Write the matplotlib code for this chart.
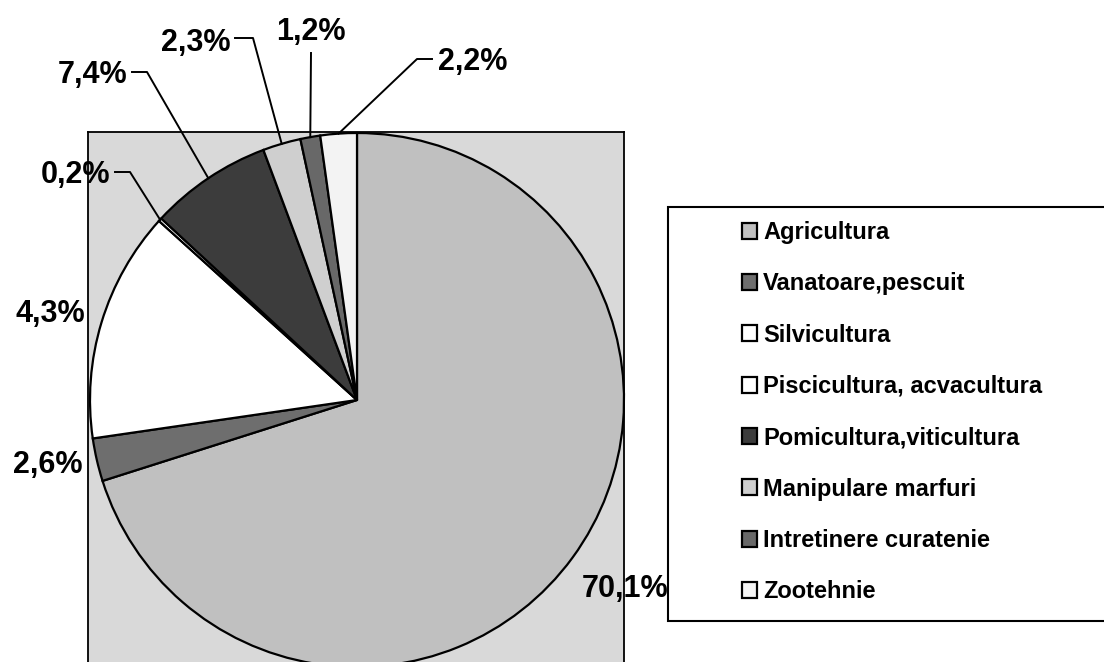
import matplotlib
matplotlib.use("Agg")
import matplotlib.pyplot as plt
from matplotlib.patches import Rectangle
import numpy as np

categories = ["Agricultura", "Vanatoare,pescuit", "Silvicultura",
              "Piscicultura, acvacultura", "Pomicultura,viticultura",
              "Manipulare marfuri", "Intretinere curatenie", "Zootehnie"]
# percentages printed next to the slices
label_values = [70.1, 2.6, 4.3, 0.2, 7.4, 2.3, 1.2, 2.2]
# slice sizes as drawn (the Silvicultura slice is drawn at ~14%, not 4.3%)
slice_sizes = [70.1, 2.6, 14.0, 0.2, 7.4, 2.3, 1.2, 2.2]
slice_colors = ["#c0c0c0", "#6e6e6e", "#ffffff", "#ffffff",
                "#3c3c3c", "#cfcfcf", "#686868", "#f3f3f3"]

plt.rcParams['font.family'] = ['Liberation Sans', 'DejaVu Sans']
plt.rcParams['font.weight'] = 'bold'

W, H = 1104, 662
fig = plt.figure(figsize=(W / 100, H / 100), dpi=100)

# pie centre / radius and plot area, in pixels
cx, cy, R = 357, 400, 267
left, right, top, bottom = 88, 624, 132, 670
ax = fig.add_axes([left / W, 1 - bottom / H, (right - left) / W, (bottom - top) / H])

wedges, _ = ax.pie(slice_sizes, colors=slice_colors, startangle=90, counterclock=False,
                   wedgeprops=dict(edgecolor='black', linewidth=1.6))

ax.set_xlim((left - cx) / R, (right - cx) / R)
ax.set_ylim((cy - bottom) / R, (cy - top) / R)
ax.set_aspect('auto')
ax.set_frame_on(True)
ax.set_facecolor('#d9d9d9')
for s in ax.spines.values():
    s.set_linewidth(1.3)
    s.set_color('black')
ax.set_xticks([])
ax.set_yticks([])


def to_data(px, py):
    return (px - cx) / R, (cy - py) / R


# text anchor (x, baseline y, ha) and leader line start/elbow in pixels
label_layout = [
    (582, 597, 'left', None),
    (82, 473, 'right', None),
    (85, 322, 'right', None),
    (110, 183, 'right', [(115, 172), (130, 172)]),
    (127, 83, 'right', [(132, 72), (147, 72)]),
    (230, 51, 'right', [(235, 38), (253, 38)]),
    (311, 40, 'center', [(311, 53)]),
    (438, 70, 'left', [(432, 59), (417, 59)]),
]

for w, val, (tx, ty, ha, leader) in zip(wedges, label_values, label_layout):
    x, y = to_data(tx, ty)
    ax.text(x, y, f"{val:.1f}%".replace('.', ','), ha=ha, va='baseline',
            fontsize=22, fontweight='bold', clip_on=False)
    if leader:
        mid = np.deg2rad((w.theta1 + w.theta2) / 2)
        pts = [to_data(*p) for p in leader] + [(np.cos(mid), np.sin(mid))]
        xs, ys = zip(*pts)
        ax.plot(xs, ys, color='black', lw=1.4, clip_on=False)

# legend box, white filled so it sits over the end of the 70,1% label
fig.add_artist(Rectangle((668 / W, 1 - 621 / H), (1110 - 668) / W, (621 - 207) / H,
                         transform=fig.transFigure, facecolor='white',
                         edgecolor='black', linewidth=1.5, zorder=3))

leg = fig.legend(wedges, categories, loc='upper left',
                 bbox_to_anchor=(742 / W, 1 - 221 / H), frameon=False,
                 prop=dict(family=['Liberation Sans', 'DejaVu Sans'], weight='bold', size=17),
                 handlelength=0.65, handleheight=0.65, handletextpad=0.25,
                 labelspacing=1.2, borderpad=0, borderaxespad=0)
leg.set_zorder(5)

fig.savefig('out.png', dpi=100)
